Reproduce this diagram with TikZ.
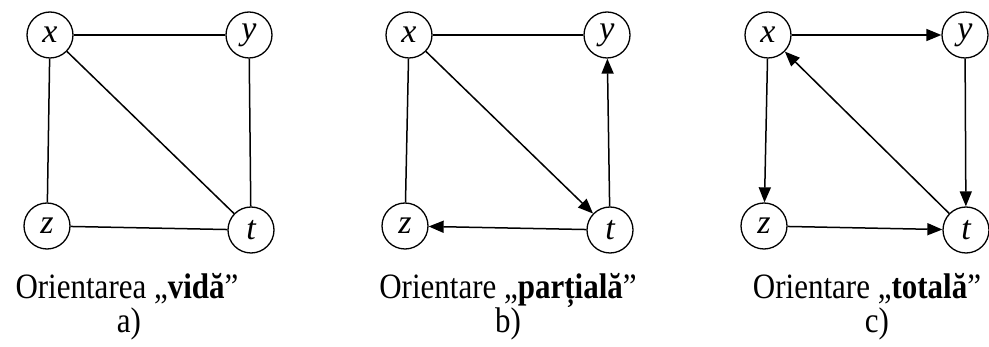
\documentclass[tikz,border=0pt]{standalone}
\usepackage{fontspec}
\setmainfont{Liberation Serif}
\usetikzlibrary{arrows.meta}
\newcommand{\tallx}[1]{\scalebox{1}[1.15]{#1}}
\tikzset{
  vtx/.style={draw, circle, line width=1.3pt, minimum size=46pt, inner sep=0pt,
    font=\fontsize{34}{34}\selectfont\itshape},
  edge/.style={line width=1.5pt},
  arc/.style={line width=1.5pt, -{Triangle[length=15pt,width=12pt]}},
  captext/.style={anchor=base, inner sep=0pt, font=\fontsize{31}{31}\selectfont}
}
\begin{document}
\begin{tikzpicture}[x=1pt,y=-1pt]
\useasboundingbox (0,0) rectangle (989,347);
% a)
\node[vtx] (ax) at (50,35) {x};
\node[vtx] (ay) at (249,35) {y};
\node[vtx] (az) at (47,226) {z};
\node[vtx] (at) at (251,230) {t};
\draw[edge] (ax) -- (ay);
\draw[edge] (ax) -- (az);
\draw[edge] (ax) -- (at);
\draw[edge] (ay) -- (at);
\draw[edge] (az) -- (at);
% b)
\node[vtx] (bx) at (409,35) {x};
\node[vtx] (by) at (607,35) {y};
\node[vtx] (bz) at (405,226) {z};
\node[vtx] (bt) at (610,230) {t};
\draw[edge] (bx) -- (by);
\draw[edge] (bx) -- (bz);
\draw[arc] (bx) -- (bt);
\draw[arc] (bt) -- (by);
\draw[arc] (bt) -- (bz);
% c)
\node[vtx] (cx) at (768,35) {x};
\node[vtx] (cy) at (965,35) {y};
\node[vtx] (cz) at (764,226) {z};
\node[vtx] (ct) at (966,230) {t};
\draw[arc] (cx) -- (cy);
\draw[arc] (cx) -- (cz);
\draw[arc] (cy) -- (ct);
\draw[arc] (cz) -- (ct);
\draw[arc] (ct) -- (cx);
% captions
\node[captext] (la) at (127,299) {\tallx{Orientarea „\textbf{vidă}”}};
\node[captext] (lb) at (508,299) {\tallx{Orientare „\textbf{parțială}”}};
\node[captext] (lc) at (867,299) {\tallx{Orientare „\textbf{totală}”}};
\node[captext] (sa) at (129,333) {\tallx{a)}};
\node[captext] (sb) at (508,333) {\tallx{b)}};
\node[captext] (sc) at (877,333) {\tallx{c)}};
\end{tikzpicture}
\end{document}
